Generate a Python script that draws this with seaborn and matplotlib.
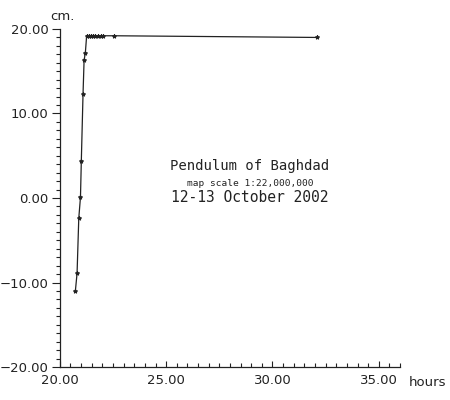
import matplotlib
matplotlib.use("Agg")
import matplotlib.pyplot as plt
import seaborn as sns
import pandas as pd
from matplotlib.ticker import MultipleLocator

hours = [20.73, 20.81, 20.89, 20.97, 21.01, 21.09, 21.14, 21.20,
         21.26, 21.35, 21.45, 21.55, 21.65, 21.80, 21.95, 22.05, 22.57, 32.10]
cm = [-11.0, -8.9, -2.4, 0.1, 4.4, 12.3, 16.3, 17.2,
      19.2, 19.2, 19.2, 19.2, 19.2, 19.2, 19.2, 19.2, 19.2, 19.0]
x_ticks = [20, 25, 30, 35]
y_ticks = [-20, -10, 0, 10, 20]

sns.set_style("white")
plt.rcParams['font.family'] = ['DejaVu Sans']

df = pd.DataFrame({"hours": hours, "cm": cm})
fig = plt.figure(figsize=(4.5, 4.0), dpi=100)
ax = fig.add_axes([0.133, 0.0825, 0.756, 0.845])
sns.lineplot(data=df, x="hours", y="cm", ax=ax, color="#222222", linewidth=0.9,
             marker="*", markersize=3, markeredgecolor="#222222", sort=False)

ax.set_xlim(20, 36)
ax.set_ylim(-20, 20)
ax.set_xticks(x_ticks)
ax.set_yticks(y_ticks)
ax.set_xticklabels([f"{v:.2f}" for v in x_ticks], fontsize=9.5, color="#222222")
ax.set_yticklabels([f"{v:.2f}".replace("-", "\u2212") for v in y_ticks], fontsize=9.5, color="#222222")
ax.xaxis.set_minor_locator(MultipleLocator(0.5))
ax.yaxis.set_minor_locator(MultipleLocator(1))
ax.tick_params(axis="x", which="both", direction="in", length=3, width=0.8, color="#222222", pad=5)
ax.tick_params(axis="x", which="major", length=4)
ax.tick_params(axis="y", which="major", direction="out", length=6, width=0.8, color="#222222", pad=2)
ax.tick_params(axis="y", which="minor", direction="out", length=3, width=0.8, color="#222222")
ax.xaxis.set_ticks_position("bottom")
ax.yaxis.set_ticks_position("left")
for s in ["top", "right"]:
    ax.spines[s].set_visible(False)
for s in ["left", "bottom"]:
    ax.spines[s].set_color("#222222")
    ax.spines[s].set_linewidth(0.9)
ax.set_xlabel("")
ax.set_ylabel("")

fig.text(428 / 450, 1 - 382 / 400, "hours", fontsize=9.5, ha="center", va="center", color="#222222")
fig.text(62 / 450, 1 - 16 / 400, "cm.", fontsize=9.5, ha="center", va="center", color="#222222")

fig.text(250 / 450, 1 - 166 / 400, "Pendulum of Baghdad", family="DejaVu Sans Mono",
         fontsize=10, ha="center", va="center", color="#222222")
fig.text(250 / 450, 1 - 184 / 400, "map scale 1:22,000,000", family="DejaVu Sans Mono",
         fontsize=6.8, ha="center", va="center", color="#222222")
fig.text(250 / 450, 1 - 198 / 400, "12-13 October 2002", family="DejaVu Sans Mono",
         fontsize=10.5, ha="center", va="center", color="#222222")

fig.savefig("out.png", dpi=100)
